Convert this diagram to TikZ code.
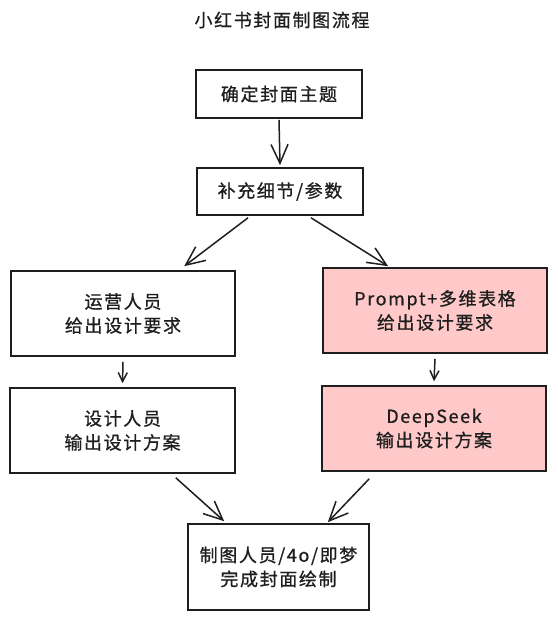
\documentclass[tikz,border=0pt]{standalone}
\usepackage{fontspec}
\setmainfont{Noto Sans CJK SC}[LetterSpace=9,FakeBold=0.8]
\usetikzlibrary{arrows.meta,calc}
\definecolor{ink}{HTML}{1E1E1E}
\definecolor{pinkfill}{HTML}{FFC9C9}
\tikzset{
  txt/.style={font=\fontsize{18}{24}\selectfont, text=ink, align=center},
  boxn/.style={txt, draw=ink, line width=1.6pt, inner sep=0pt, fill=white},
  pinkn/.style={boxn, fill=pinkfill},
  bigarr/.style={draw=ink, line width=1.5pt, -{Straight Barb[length=19pt,width=17pt,line width=1.5pt]}},
  smallarr/.style={draw=ink, line width=1.5pt, -{Straight Barb[length=9pt,width=9pt,line width=1.5pt]}}
}
\begin{document}
\begin{tikzpicture}[x=1pt,y=-1pt]
\useasboundingbox (0,0) rectangle (557,620);
\node[txt] (title) at (282,20) {小红书封面制图流程};
\node[boxn, minimum width=166pt, minimum height=48pt] (b1) at (279,94) {确定封面主题};
\node[boxn, minimum width=166pt, minimum height=47pt] (b2) at (280,191.5) {补充细节/参数};
\node[boxn, minimum width=224pt, minimum height=85pt] (l1) at (123,313.5) {运营人员\\给出设计要求};
\node[pinkn, minimum width=224pt, minimum height=85pt] (r1) at (435,310.5) {Prompt+多维表格\\给出设计要求};
\node[boxn, minimum width=225pt, minimum height=85pt] (l2) at (122.5,430.5) {设计人员\\输出设计方案};
\node[pinkn, minimum width=224pt, minimum height=85pt] (r2) at (434,428.5) {DeepSeek\\输出设计方案};
\node[boxn, minimum width=181pt, minimum height=86pt] (b3) at (278.5,567) {制图人员/4o/即梦\\完成封面绘制};
\draw[bigarr] ([yshift=-1pt]b1.south) -- ([yshift=2pt]b2.north);
\draw[bigarr] ([xshift=-32pt,yshift=-2pt]b2.south) -- ([xshift=174pt,yshift=4pt]l1.north west);
\draw[bigarr] ([xshift=31pt,yshift=-2pt]b2.south) -- ([xshift=66pt,yshift=1pt]r1.north west);
\draw[smallarr] ([yshift=-5pt]l1.south) -- ([yshift=4pt]l2.north);
\draw[smallarr] ([yshift=-5pt]r1.south) -- ([yshift=4pt]r2.north);
\draw[bigarr] ([xshift=-60pt,yshift=-4pt]l2.south east) -- ([xshift=37pt,yshift=2pt]b3.north west);
\draw[bigarr] ([xshift=48pt,yshift=-7pt]r2.south west) -- ([xshift=-42pt,yshift=1pt]b3.north east);
\end{tikzpicture}
\end{document}
